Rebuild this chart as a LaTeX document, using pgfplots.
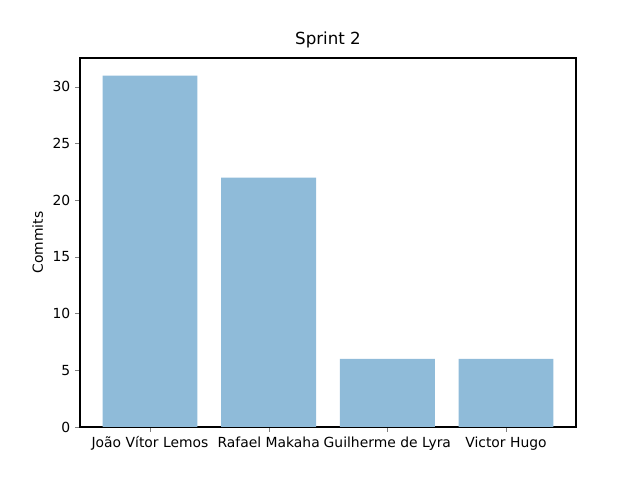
\documentclass[border=0pt]{standalone}
\usepackage{pgfplots}
\pgfplotsset{compat=1.18}
\usepackage{fontspec}
\setmainfont{DejaVu Sans}
\definecolor{barc}{RGB}{143,187,217}
\begin{document}
\begin{tikzpicture}
\path[use as bounding box] (0,0) rectangle (460.8pt,345.6pt);
\begin{axis}[
  at={(57.6pt,38.16pt)}, anchor=south west,
  scale only axis, width=357.12pt, height=265.68pt,
  xmin=-0.59, xmax=3.59, ymin=0, ymax=32.55,
  xtick={0,1,2,3},
  xticklabels={João Vítor Lemos, Rafael Makaha, Guilherme de Lyra, Victor Hugo},
  ytick={0,5,10,15,20,25,30},
  tick align=outside, tick pos=left,
  major tick length=3.5pt,
  /pgf/number format/assume math mode=true,
  ticklabel style={font=\fontsize{10}{12}\selectfont},
  ylabel={Commits}, ylabel style={font=\fontsize{10}{12}\selectfont},
  title={Sprint 2}, title style={font=\fontsize{12}{14}\selectfont, yshift=-2pt},
  axis line style={line width=0.8pt},
]
\addplot[ybar, bar width=0.8, fill=barc, draw=none] coordinates {(0,31) (1,22) (2,6) (3,6)};
\end{axis}
\end{tikzpicture}
\end{document}
